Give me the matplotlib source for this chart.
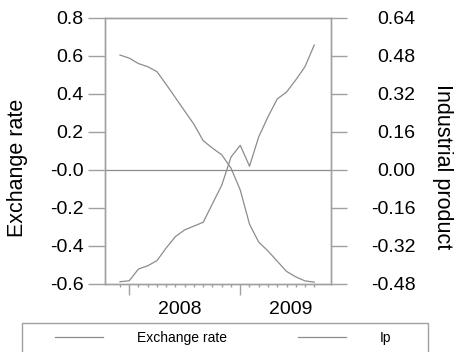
import matplotlib
matplotlib.use("Agg")
import matplotlib.pyplot as plt
from matplotlib.patches import Rectangle
from matplotlib.ticker import FixedLocator, FixedFormatter

plt.rcParams['font.family'] = ['Liberation Sans', 'DejaVu Sans']

# monthly observations, Dec 2007 .. Sep 2009
months = list(range(22))
exchange_rate = [-0.588, -0.583, -0.521, -0.504, -0.477, -0.410, -0.350, -0.315,
                 -0.295, -0.275, -0.177, -0.080, 0.068, 0.130, 0.020, 0.175,
                 0.280, 0.374, 0.410, 0.474, 0.544, 0.658]
ip = [0.484, 0.471, 0.448, 0.435, 0.414, 0.360, 0.304, 0.248,
      0.192, 0.123, 0.092, 0.064, 0.008, -0.084, -0.228, -0.304,
      -0.341, -0.384, -0.427, -0.450, -0.467, -0.472]

left_ticks = [-0.6, -0.4, -0.2, 0.0, 0.2, 0.4, 0.6, 0.8]
left_labels = ['-0.6', '-0.4', '-0.2', '-0.0', '0.2', '0.4', '0.6', '0.8']
right_ticks = [-0.48, -0.32, -0.16, 0.0, 0.16, 0.32, 0.48, 0.64]
right_labels = ['-0.48', '-0.32', '-0.16', '0.00', '0.16', '0.32', '0.48', '0.64']
year_pos = [6.5, 18.5]
year_labels = ['2008', '2009']
jan_pos = [1, 13]

gray = '#a0a0a0'
line_gray = '#8c8c8c'

fig = plt.figure(figsize=(4.55, 3.52), dpi=100)
ax = fig.add_axes([105 / 455, 1 - 284 / 352, 226 / 455, 266 / 352])
ax2 = ax.twinx()

l1, = ax.plot(months, exchange_rate, color=line_gray, lw=0.9)
l2, = ax2.plot(months, ip, color=line_gray, lw=0.9)
ax.axhline(0, color=line_gray, lw=0.9)

ax.set_xlim(-1.62, 22.81)
ax.set_ylim(-0.6, 0.8)
ax2.set_ylim(-0.48, 0.64)

for a in (ax, ax2):
    for s in a.spines.values():
        s.set_color(gray)
        s.set_linewidth(1.0)

ax.yaxis.set_major_locator(FixedLocator(left_ticks))
ax.yaxis.set_major_formatter(FixedFormatter(left_labels))
ax.tick_params(axis='y', direction='out', length=12, width=1.0, color=gray,
               pad=3.5, labelsize=14)
ax2.yaxis.set_major_locator(FixedLocator(right_ticks))
ax2.yaxis.set_major_formatter(FixedFormatter(right_labels))
ax2.tick_params(axis='y', direction='out', length=11.5, width=1.0, color=gray,
                pad=49.5, labelsize=14)
for t in ax2.get_yticklabels():
    t.set_ha('right')

ax.xaxis.set_major_locator(FixedLocator(jan_pos))
ax.xaxis.set_minor_locator(FixedLocator(months))
ax.tick_params(axis='x', which='major', direction='out', length=8, width=1.0,
               color=gray, labelbottom=False)
ax.tick_params(axis='x', which='minor', direction='out', length=2.5, width=1.0,
               color=gray)
for xp, lab in zip(year_pos, year_labels):
    ax.annotate(lab, xy=(xp, 0), xycoords=ax.get_xaxis_transform(),
                xytext=(0, -18.5), textcoords='offset points',
                ha='center', va='center', fontsize=14)

fig.text(18 / 455, 1 - 168 / 352, 'Exchange rate', rotation=90,
         ha='center', va='center', fontsize=15.5)
fig.text(443 / 455, 1 - 167 / 352, 'Industrial product', rotation=270,
         ha='center', va='center', fontsize=15.5)

# legend box runs off the bottom edge, as in the original
fig.add_artist(Rectangle((22 / 455, -0.05), 406 / 455, 0.05 + 29 / 352,
                         transform=fig.transFigure, fill=False,
                         edgecolor=gray, lw=1.0))
leg = fig.legend([l1, l2], ['Exchange rate', 'Ip'], ncol=2,
                 bbox_to_anchor=(55 / 455, 1 - 338 / 352), loc='center left',
                 fontsize=10, frameon=False, handlelength=3.46,
                 handletextpad=2.45, columnspacing=5.07, borderpad=0,
                 borderaxespad=0)

fig.savefig('out.png', dpi=100)
